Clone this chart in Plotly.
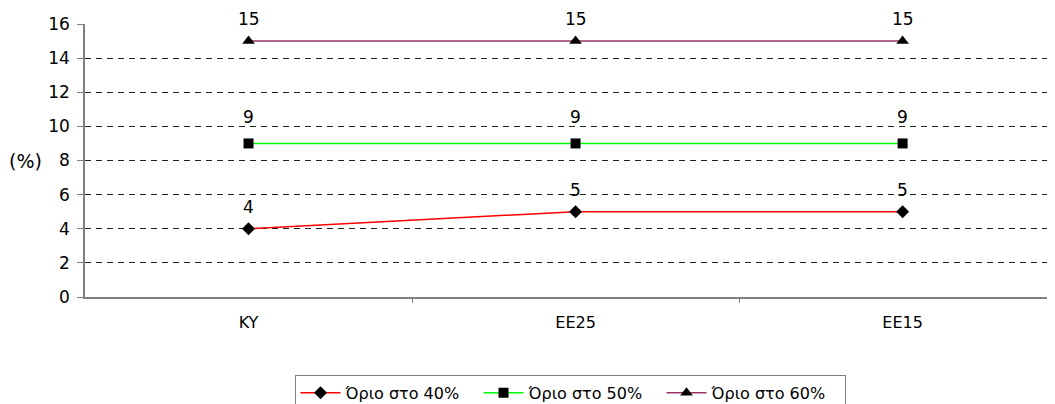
import plotly.graph_objects as go

categories = ["KY", "EE25", "EE15"]
series_names = ["Όριο στο 40%", "Όριο στο 50%", "Όριο στο 60%"]
values_40 = [4, 5, 5]
values_50 = [9, 9, 9]
values_60 = [15, 15, 15]
y_ticks = [0, 2, 4, 6, 8, 10, 12, 14, 16]

colors = ["#FF0000", "#00FF00", "#993366"]
symbols = ["diamond", "square", "triangle-up"]
sizes = [10, 10, 11]
label_shift = [10, 14, 10]

FONT = "DejaVu Sans, Arial, sans-serif"

fig = go.Figure()
for name, vals, col, sym, sz, sh in zip(series_names, [values_40, values_50, values_60],
                                        colors, symbols, sizes, label_shift):
    xs = list(range(len(categories)))
    fig.add_trace(go.Scatter(
        x=xs, y=vals, name=name,
        mode="lines+markers",
        line=dict(color=col, width=1.5),
        marker=dict(symbol=sym, size=sz, color="black"),
        cliponaxis=False,
    ))
    for xv, yv in zip(xs, vals):
        fig.add_annotation(x=xv, y=yv, text=str(yv), showarrow=False,
                           yanchor="bottom", yshift=sh,
                           font=dict(family=FONT, size=17, color="black"))

# page body has an 8px default margin, so the figure is offset by (8, 8)
fig.update_layout(
    width=1047, height=396,
    margin=dict(l=77, r=0, t=16, b=107, autoexpand=False),
    paper_bgcolor="white", plot_bgcolor="white",
    font=dict(family=FONT, size=16, color="black"),
    showlegend=True,
    legend=dict(
        orientation="h", x=0.5, xanchor="center", y=-0.285, yanchor="top",
        bordercolor="#808080", borderwidth=1, font=dict(size=16),
        itemwidth=40, tracegroupgap=0, entrywidth=128, entrywidthmode="pixels",
    ),
    xaxis=dict(
        range=[-0.5, 2.466], tickmode="array",
        tickvals=list(range(len(categories))), ticktext=categories,
        showgrid=False, zeroline=False, automargin=False,
        showline=True, linecolor="#808080", linewidth=1.5,
        ticks="", ticklabelstandoff=10, tickfont=dict(size=16),
        minor=dict(tickvals=[0.5, 1.5], ticks="outside", ticklen=4, tickcolor="#808080"),
    ),
    yaxis=dict(
        range=[0, 16], tickvals=y_ticks, automargin=False,
        showgrid=True, gridcolor="#222222", griddash="6px,5px", gridwidth=1,
        zeroline=False, showline=True, linecolor="#808080", linewidth=1.5,
        ticks="outside", ticklen=6, tickcolor="#808080", ticklabelstandoff=4,
        tickfont=dict(size=17),
    ),
)

fig.add_annotation(text="(%)", xref="paper", yref="paper", x=-0.061, y=0.5,
                   xanchor="center", yanchor="middle", showarrow=False,
                   font=dict(family=FONT, size=19))

fig.write_html("out.html")
